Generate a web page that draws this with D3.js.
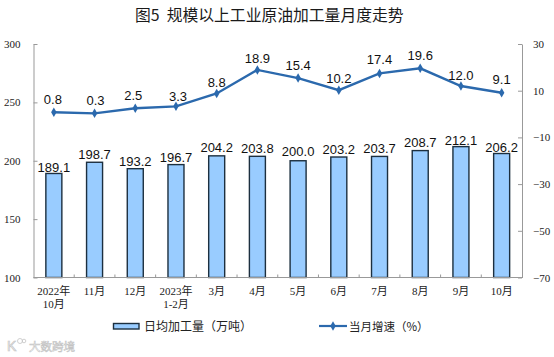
<!DOCTYPE html>
<html>
<head>
<meta charset="utf-8">
<script src="https://cdn.jsdelivr.net/npm/d3@7"></script>
<style>
  body { margin: 0; background: #fff; }
  svg { display: block; }
</style>
</head>
<body>
<svg id="drawing_region"></svg>
<script>
const categories = ["2022年|10月", "11月", "12月", "2023年|1-2月", "3月", "4月", "5月", "6月", "7月", "8月", "9月", "10月"];
const dailyOutput = [189.1, 198.7, 193.2, 196.7, 204.2, 203.8, 200.0, 203.2, 203.7, 208.7, 212.1, 206.2];
const dailyOutputText = ["189.1", "198.7", "193.2", "196.7", "204.2", "203.8", "200.0", "203.2", "203.7", "208.7", "212.1", "206.2"];
const growth = [0.8, 0.3, 2.5, 3.3, 8.8, 18.9, 15.4, 10.2, 17.4, 19.6, 12.0, 9.1];
const growthText = ["0.8", "0.3", "2.5", "3.3", "8.8", "18.9", "15.4", "10.2", "17.4", "19.6", "12.0", "9.1"];
const leftTicks = [100, 150, 200, 250, 300];
const rightTicks = [-70, -50, -30, -10, 10, 30];

// hand placed label nudges, the original labels are not evenly offset
const outputLabelGap = [1.5, 3, 3, 3, 3.5, 3.3, 5, 3, 3.6, 3.6, 1.5, 1.5];
const growthLabelGap = [8, 8, 8, 5, 7, 7, 8, 7.5, 9, 8, 6.5, 8.7];
const growthLabelDx = [-1, 1, -2, 2, 0, 0, 0, 0, 0, 0, 0, 0];

const config = {
    width: 554,
    height: 357,
    margin: {top: 44, right: 32, bottom: 79.5, left: 33.5}
};
const serif = '"Liberation Serif", "Noto Sans CJK SC", serif';
const sans = '"Liberation Sans", "Noto Sans CJK SC", sans-serif';
const cjk = '"Noto Sans CJK SC", sans-serif';

const svg = d3.select('#drawing_region')
    .attr('width', config.width)
    .attr('height', config.height);

const inner_width = config.width - config.margin.left - config.margin.right;
const inner_height = config.height - config.margin.top - config.margin.bottom;

const chart = svg.append('g')
    .attr('transform', `translate(${config.margin.left}, ${config.margin.top})`);

const xscale = d3.scaleBand().domain(d3.range(categories.length)).range([0, inner_width]);
const yleft = d3.scaleLinear().domain([100, 300]).range([inner_height, 0]);
const yright = d3.scaleLinear().domain([-70, 30]).range([inner_height, 0]);
const barw = 16;
const cx = i => xscale(i) + xscale.bandwidth()/2;

// bars
chart.selectAll('rect.bar')
    .data(dailyOutput)
    .enter()
    .append('rect')
    .attr('class', 'bar')
    .attr('x', (d,i) => cx(i) - barw/2)
    .attr('y', d => yleft(d))
    .attr('width', barw)
    .attr('height', d => inner_height - yleft(d))
    .attr('fill', '#99ccff')
    .attr('stroke', '#1c2f3f')
    .attr('stroke-width', 1.4);

// axes
const axisLeft = d3.axisLeft(yleft).tickValues(leftTicks).tickSizeInner(-4).tickSizeOuter(0).tickPadding(13);
const axisRight = d3.axisRight(yright).tickValues(rightTicks).tickSizeInner(-4).tickSizeOuter(0).tickPadding(11);

const styleAxis = g => {
    g.selectAll('path, line').attr('stroke', '#999');
    g.selectAll('text').attr('font-family', serif).attr('font-size', 11).attr('fill', '#222');
};
chart.append('g').call(axisLeft).call(styleAxis);
chart.append('g').attr('transform', `translate(${inner_width}, 0)`).call(axisRight).call(styleAxis);

chart.append('line')
    .attr('x1', 0).attr('x2', inner_width)
    .attr('y1', inner_height).attr('y2', inner_height)
    .attr('stroke', '#999');
chart.selectAll('line.xtick')
    .data(d3.range(1, categories.length))
    .enter()
    .append('line')
    .attr('class', 'xtick')
    .attr('x1', d => xscale(d)).attr('x2', d => xscale(d))
    .attr('y1', inner_height).attr('y2', inner_height - 3)
    .attr('stroke', '#999');

// category labels, second line for the year breaks
const cat = chart.selectAll('text.cat')
    .data(categories)
    .enter()
    .append('text')
    .attr('class', 'cat')
    .attr('text-anchor', 'middle')
    .attr('font-family', serif)
    .attr('font-size', 11)
    .attr('fill', '#222');
cat.selectAll('tspan')
    .data((d,i) => d.split('|').map(t => ({t: t, i: i})))
    .enter()
    .append('tspan')
    .attr('x', d => cx(d.i))
    .attr('y', (d,j) => inner_height + 17.5 + j*13)
    .text(d => d.t);

// growth line
const line = d3.line()
    .x((d,i) => cx(i))
    .y(d => yright(d));

chart.append('path')
    .datum(growth)
    .attr('d', line)
    .attr('fill', 'none')
    .attr('stroke', '#2b69ad')
    .attr('stroke-width', 2.4);

const diamond = d3.symbol().type(d3.symbolDiamond).size(26);
chart.selectAll('path.dot')
    .data(growth)
    .enter()
    .append('path')
    .attr('class', 'dot')
    .attr('d', diamond)
    .attr('transform', (d,i) => `translate(${cx(i)}, ${yright(d)})`)
    .attr('fill', '#2b69ad');

// value labels
chart.selectAll('text.growth')
    .data(growth)
    .enter()
    .append('text')
    .attr('class', 'growth')
    .attr('x', (d,i) => cx(i) + growthLabelDx[i])
    .attr('y', (d,i) => yright(d) - growthLabelGap[i])
    .attr('text-anchor', 'middle')
    .attr('font-family', sans)
    .attr('font-size', 13)
    .attr('fill', '#111')
    .text((d,i) => growthText[i]);

chart.selectAll('text.output')
    .data(dailyOutput)
    .enter()
    .append('text')
    .attr('class', 'output')
    .attr('x', (d,i) => cx(i))
    .attr('y', (d,i) => yleft(d) - outputLabelGap[i])
    .attr('text-anchor', 'middle')
    .attr('font-family', sans)
    .attr('font-size', 13)
    .attr('fill', '#111')
    .text((d,i) => dailyOutputText[i]);

// title
svg.append('text')
    .attr('x', 135).attr('y', 21)
    .attr('font-family', cjk)
    .attr('font-size', 15.8)
    .attr('fill', '#1a1a1a')
    .attr('xml:space', 'preserve')
    .text('图5  规模以上工业原油加工量月度走势');

// legend
svg.append('rect')
    .attr('x', 113.5).attr('y', 323.5)
    .attr('width', 25.5).attr('height', 5.5)
    .attr('fill', '#99ccff')
    .attr('stroke', '#1c2f3f')
    .attr('stroke-width', 1.4);
svg.append('text')
    .attr('x', 144).attr('y', 330.5)
    .attr('font-family', cjk).attr('font-size', 12).attr('fill', '#222')
    .text('日均加工量（万吨）');

svg.append('line')
    .attr('x1', 319).attr('x2', 347)
    .attr('y1', 326).attr('y2', 326)
    .attr('stroke', '#2b69ad').attr('stroke-width', 2.2);
svg.append('path')
    .attr('d', diamond)
    .attr('transform', 'translate(333, 326)')
    .attr('fill', '#2b69ad');
svg.append('text')
    .attr('x', 349).attr('y', 330.5)
    .attr('font-family', cjk).attr('font-size', 11.5).attr('fill', '#222')
    .text('当月增速（%）');

// watermark bottom left
svg.append('text')
    .attr('x', 7).attr('y', 351)
    .attr('font-family', sans).attr('font-size', 14)
    .attr('fill', '#fff').attr('stroke', '#c4c4c4').attr('stroke-width', 0.7)
    .text('K');
svg.append('circle')
    .attr('cx', 20).attr('cy', 341).attr('r', 2.5)
    .attr('fill', 'none').attr('stroke', '#c4c4c4').attr('stroke-width', 0.8);
svg.append('circle')
    .attr('cx', 24).attr('cy', 341).attr('r', 1.8)
    .attr('fill', 'none').attr('stroke', '#c4c4c4').attr('stroke-width', 0.8);
svg.append('text')
    .attr('x', 29).attr('y', 350.5)
    .attr('font-family', cjk).attr('font-size', 11.5)
    .attr('fill', '#fff').attr('stroke', '#c4c4c4').attr('stroke-width', 0.6)
    .text('大数跨境');
</script>
</body>
</html>
